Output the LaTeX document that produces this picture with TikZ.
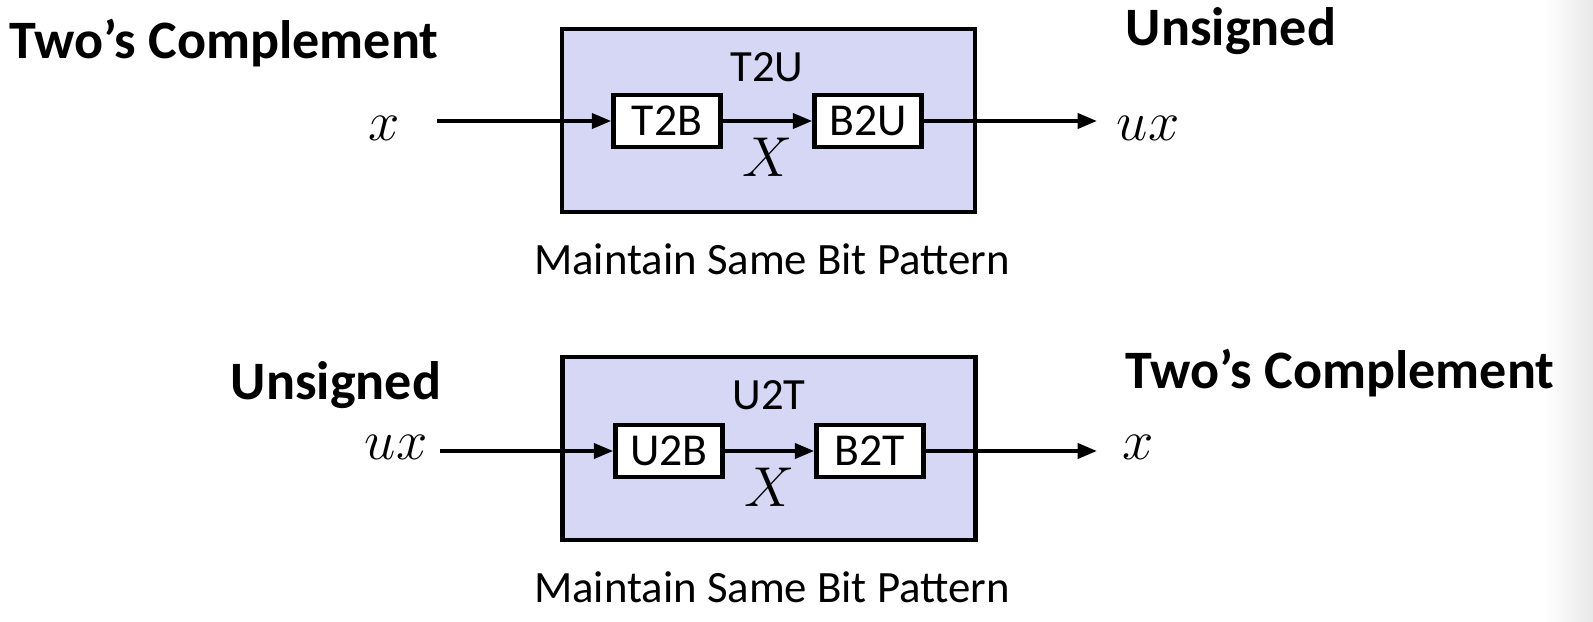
\RequirePackage{fix-cm}
\documentclass[tikz,border=0pt]{standalone}
\usepackage{fontspec}
\setmainfont{Carlito}
\usetikzlibrary{arrows.meta, positioning}
\definecolor{panel}{RGB}{214,214,245}
\definecolor{edge}{RGB}{232,232,232}

\begin{document}
\begin{tikzpicture}[x=0.02cm, y=-0.02cm,
  outer/.style={rectangle, draw, line width=2.6pt, fill=panel,
    minimum width=8.26cm, minimum height=3.66cm},
  stage/.style={rectangle, draw, line width=2.6pt, fill=white, inner sep=0pt,
    minimum width=2.14cm, minimum height=1.04cm, font=\fontsize{26}{30}\selectfont},
  label/.style={font=\fontsize{25.4}{30}\selectfont},
  title/.style={font=\fontsize{30.8}{36}\selectfont\bfseries},
  var/.style={font=\fontsize{32}{38}\selectfont},
  note/.style={font=\fontsize{25.5}{30}\selectfont},
  arrow/.style={-{Triangle[length=11pt, width=8.5pt]}, line width=2.2pt}
]
\useasboundingbox (0,0) rectangle (1593,622);
\shade[left color=white, right color=edge] (1545,0) rectangle (1593,622);

% two's complement to unsigned
\node[outer] (box1) at (768.5,120.5) {};
\node[label] (t2u) at (767,67) {T2U};
\node[stage] (t2b) at (667,121) {T2B};
\node[stage] (b2u) at (868,121) {B2U};
\node[title] (tc1) at (224,43) {Two’s Complement};
\node[title] (un1) at (1231,31) {Unsigned};
\node[var] (x1) at (384,128) {$x$};
\node[var] (ux1) at (1148,128) {$ux$};
\node[note] (same1) at (772,259) {Maintain Same Bit Pattern};
\coordinate (in1) at (437,121);
\coordinate (out1) at (1097,121);

\draw[arrow] (in1) -- (t2b.west);
\draw[arrow] (t2b.east) -- node[var, below, inner sep=8.5pt] {$X$} (b2u.west);
\draw[arrow] (b2u.east) -- (out1);

% unsigned to two's complement
\node[outer] (box2) at (769,448.5) {};
\node[label] (u2t) at (769,395) {U2T};
\node[stage] (u2b) at (669,451) {U2B};
\node[stage] (b2t) at (870,451) {B2T};
\node[title] (un2) at (336,385) {Unsigned};
\node[title] (tc2) at (1340,373) {Two’s Complement};
\node[var] (ux2) at (396,447) {$ux$};
\node[var] (x2) at (1138,447) {$x$};
\node[note] (same2) at (772,587) {Maintain Same Bit Pattern};
\coordinate (in2) at (440,451);
\coordinate (out2) at (1097,451);

\draw[arrow] (in2) -- (u2b.west);
\draw[arrow] (u2b.east) -- node[var, below, inner sep=8.5pt] {$X$} (b2t.west);
\draw[arrow] (b2t.east) -- (out2);
\end{tikzpicture}
\end{document}
